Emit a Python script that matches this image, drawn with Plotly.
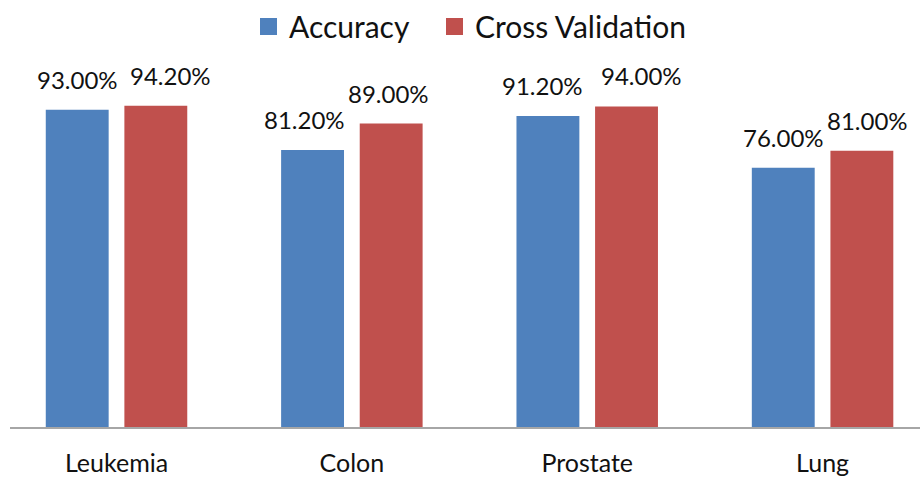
import plotly.graph_objects as go

# Dataset results
categories = ["Leukemia", "Colon", "Prostate", "Lung"]
accuracy = [93.00, 81.20, 91.20, 76.00]
cross_validation = [94.20, 89.00, 94.00, 81.00]

series_names = ["Accuracy", "Cross Validation"]
colors = ["#4F81BD", "#C0504D"]

FONT = "Lato"
TEXT = "#111111"
W, H = 920, 485
ML = 10

fig = go.Figure()
for name, vals, col in zip(series_names, [accuracy, cross_validation], colors):
    fig.add_trace(go.Bar(
        x=categories, y=vals, name=name,
        marker=dict(color=col, line=dict(width=0)),
        showlegend=False,
    ))

# value labels above each bar
label_dx = [[0, 15], [-8, -2], [-6, 15], [0, 6]]
for i, cat in enumerate(categories):
    for j, vals in enumerate([accuracy, cross_validation]):
        fig.add_annotation(
            x=cat, y=vals[i], xref="x", yref="y",
            text=f"{vals[i]:.2f}%", showarrow=False,
            xshift=(-39 if j == 0 else 39) + label_dx[i][j],
            yanchor="bottom", yshift=14,
            font=dict(family=FONT, size=24, color=TEXT),
        )

# legend drawn as swatches + text along the top
def px_x(p):
    return (p - ML) / (W - ML)

legend_items = [(260, 287), (446, 473)]
for (sx, tx), name, col in zip(legend_items, series_names, colors):
    fig.add_shape(
        type="rect", xref="paper", yref="paper",
        x0=px_x(sx), x1=px_x(sx + 17),
        y0=1 + (86 - 35) / 341, y1=1 + (86 - 18) / 341,
        fillcolor=col, line=dict(width=0),
    )
    fig.add_annotation(
        x=px_x(tx), y=1 + (86 - 26) / 341, xref="paper", yref="paper",
        text=name, showarrow=False, xanchor="left", yanchor="middle",
        font=dict(family=FONT, size=30, color=TEXT),
    )

fig.update_layout(
    width=W, height=H,
    margin=dict(l=ML, r=0, t=86, b=58),
    paper_bgcolor="white", plot_bgcolor="white",
    barmode="group", bargap=0.332, bargroupgap=0.2,
    showlegend=False,
    xaxis=dict(
        range=[-0.4526, 3.414],
        showline=True, linecolor="#A6A6A6", linewidth=1.5,
        ticks="", showgrid=False,
        tickfont=dict(family=FONT, size=25, color=TEXT),
        ticklabelstandoff=13,
    ),
    yaxis=dict(
        range=[0, 100], showgrid=False, zeroline=False,
        showticklabels=False, showline=False,
    ),
)

fig.write_html("out.html")
